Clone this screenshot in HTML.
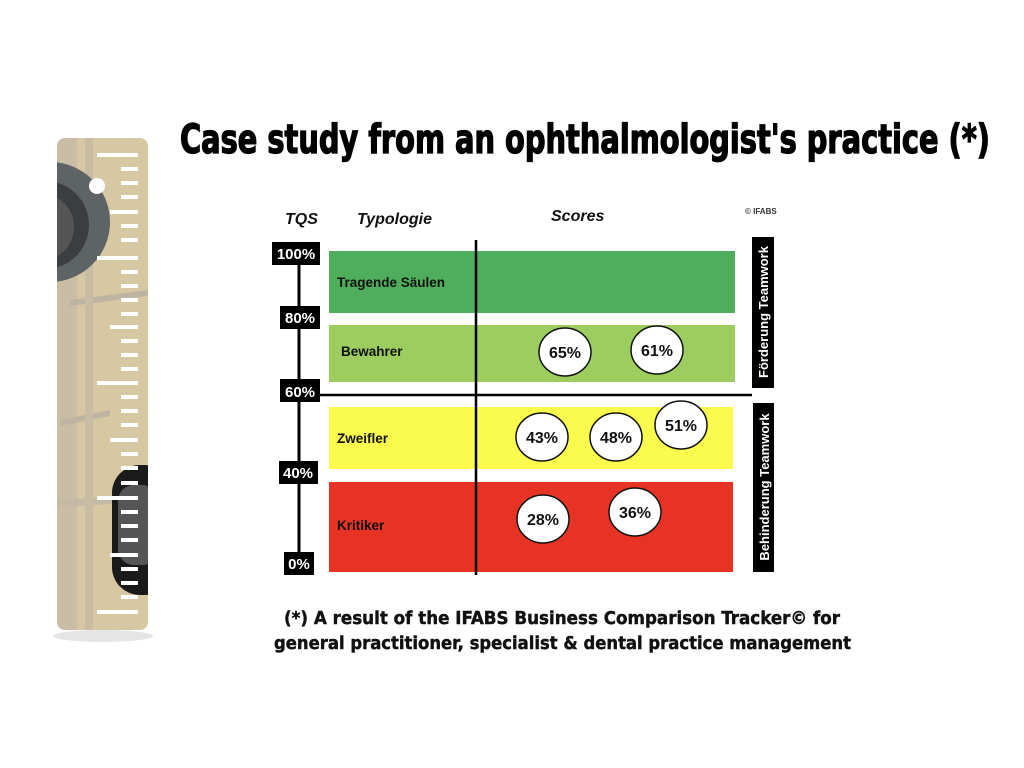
<!DOCTYPE html>
<html><head><meta charset="utf-8"><style>
html,body{margin:0;padding:0;background:#fff;width:1024px;height:768px;overflow:hidden}
</style></head><body>
<svg width="1024" height="768" viewBox="0 0 1024 768" xmlns="http://www.w3.org/2000/svg" font-family="Liberation Sans, sans-serif">
<defs>
<clipPath id="rc"><rect x="57" y="138" width="91" height="492" rx="8"/></clipPath>
</defs>
<!-- ruler -->
<ellipse cx="103" cy="636" rx="50" ry="6" fill="#ccc" opacity=".5"/>
<g clip-path="url(#rc)">
<rect x="57" y="138" width="91" height="492" fill="#d8c7a3"/>
<rect x="57" y="138" width="20" height="492" fill="#c9bda6"/>
<path d="M70 300 L148 290 L148 296 L70 306Z" fill="#bdb4a2"/>
<path d="M60 420 L110 410 L110 416 L60 426Z" fill="#bdb4a2"/>
<path d="M57 500 L148 495 L148 502 L57 507Z" fill="#c4baa6"/>
<rect x="85" y="138" width="8" height="492" fill="#c8bca4"/>
<circle cx="50" cy="222" r="60" fill="#5e6466"/>
<circle cx="45" cy="225" r="44" fill="#3b3e40"/>
<circle cx="40" cy="227" r="34" fill="#555"/>
<rect x="112" y="465" width="60" height="130" rx="28" fill="#1a1a1a"/>
<rect x="118" y="485" width="40" height="80" rx="16" fill="#555"/>
</g>
<circle cx="97" cy="186" r="8" fill="#fff"/>
<g fill="#fff">
<rect x="97" y="153" width="41" height="4"/>
<rect x="97" y="256" width="41" height="4"/>
<rect x="97" y="381" width="41" height="4"/>
<rect x="97" y="496" width="41" height="4"/>
<rect x="97" y="610" width="41" height="4"/>
<rect x="110" y="210" width="28" height="4"/>
<rect x="110" y="325" width="28" height="4"/>
<rect x="110" y="438" width="28" height="4"/>
<rect x="110" y="553" width="28" height="4"/>
<rect x="121" y="167" width="17" height="4"/><rect x="121" y="181" width="17" height="4"/><rect x="121" y="195" width="17" height="4"/>
<rect x="121" y="224" width="17" height="4"/><rect x="121" y="238" width="17" height="4"/>
<rect x="121" y="270" width="17" height="4"/><rect x="121" y="284" width="17" height="4"/><rect x="121" y="298" width="17" height="4"/><rect x="121" y="312" width="17" height="4"/>
<rect x="121" y="339" width="17" height="4"/><rect x="121" y="353" width="17" height="4"/><rect x="121" y="367" width="17" height="4"/>
<rect x="121" y="395" width="17" height="4"/><rect x="121" y="409" width="17" height="4"/><rect x="121" y="423" width="17" height="4"/>
<rect x="121" y="452" width="17" height="4"/><rect x="121" y="466" width="17" height="4"/><rect x="121" y="481" width="17" height="4"/>
<rect x="121" y="510" width="17" height="4"/><rect x="121" y="524" width="17" height="4"/><rect x="121" y="538" width="17" height="4"/>
<rect x="121" y="567" width="17" height="4"/><rect x="121" y="581" width="17" height="4"/><rect x="121" y="595" width="17" height="4"/>
</g>
<!-- title -->
<text x="180" y="153" font-family="DejaVu Sans Condensed, DejaVu Sans, sans-serif" font-weight="bold" font-size="40" stroke="#000" stroke-width="1.3" textLength="810" lengthAdjust="spacingAndGlyphs">Case study from an ophthalmologist's practice (*)</text>
<!-- header -->
<g font-weight="bold" font-style="italic" font-size="16" fill="#111">
<text x="285" y="224">TQS</text>
<text x="357" y="224">Typologie</text>
<text x="551" y="221">Scores</text>
</g>
<text x="745" y="214" font-size="8" font-weight="bold" fill="#333">© IFABS</text>
<!-- boxes -->
<rect x="329" y="251" width="406" height="62" fill="#4fae5b"/>
<rect x="329" y="325" width="406" height="57" fill="#9ccd5e"/>
<rect x="329" y="407" width="404" height="62" fill="#fbfb4e"/>
<rect x="329" y="482" width="404" height="90" fill="#e63324"/>
<g font-weight="bold" font-size="13.5" fill="#111">
<text x="337" y="287">Tragende Säulen</text>
<text x="341" y="356">Bewahrer</text>
<text x="337" y="443">Zweifler</text>
<text x="337" y="530">Kritiker</text>
</g>
<!-- axes -->
<line x1="299" y1="252" x2="299" y2="565" stroke="#000" stroke-width="3"/>
<line x1="476" y1="240" x2="476" y2="575" stroke="#000" stroke-width="2.5"/>
<line x1="280" y1="395" x2="752" y2="395" stroke="#000" stroke-width="2.5"/>
<g fill="#000">
<rect x="272" y="242" width="48" height="23"/>
<rect x="280" y="306" width="40" height="23"/>
<rect x="280" y="379" width="40" height="23"/>
<rect x="279" y="461" width="39" height="23"/>
<rect x="284" y="552" width="30" height="23"/>
<rect x="752" y="237" width="22" height="151"/>
<rect x="753" y="403" width="21" height="169"/>
</g>
<g fill="#fff" font-weight="bold" font-size="15" text-anchor="middle">
<text x="296" y="259">100%</text>
<text x="300" y="323">80%</text>
<text x="300" y="397">60%</text>
<text x="298" y="478">40%</text>
<text x="299" y="569">0%</text>
<text transform="translate(768,312) rotate(-90)" font-size="13">Förderung Teamwork</text>
<text transform="translate(769,487) rotate(-90)" font-size="13">Behinderung Teamwork</text>
</g>
<!-- circles -->
<g fill="#fff" stroke="#111" stroke-width="1.5">
<ellipse cx="565" cy="352" rx="26" ry="24"/>
<ellipse cx="657" cy="350" rx="26" ry="24"/>
<ellipse cx="542" cy="437" rx="26" ry="24"/>
<ellipse cx="616" cy="437" rx="26" ry="24"/>
<ellipse cx="681" cy="425" rx="26" ry="24"/>
<ellipse cx="543" cy="519" rx="26" ry="24"/>
<ellipse cx="635" cy="512" rx="26" ry="24"/>
</g>
<g font-weight="bold" font-size="16" fill="#111" text-anchor="middle">
<text x="565" y="358">65%</text>
<text x="657" y="356">61%</text>
<text x="542" y="443">43%</text>
<text x="616" y="443">48%</text>
<text x="681" y="431">51%</text>
<text x="543" y="525">28%</text>
<text x="635" y="518">36%</text>
</g>
<!-- footer -->
<g font-family="DejaVu Sans Condensed, DejaVu Sans, sans-serif" font-weight="bold" font-size="18" fill="#111" stroke="#111" stroke-width="0.4">
<text x="284" y="624" textLength="556" lengthAdjust="spacingAndGlyphs">(*) A result of the IFABS Business Comparison Tracker© for</text>
<text x="274" y="649" textLength="577" lengthAdjust="spacingAndGlyphs">general practitioner, specialist &amp; dental practice management</text>
</g>
</svg>
</body></html>
